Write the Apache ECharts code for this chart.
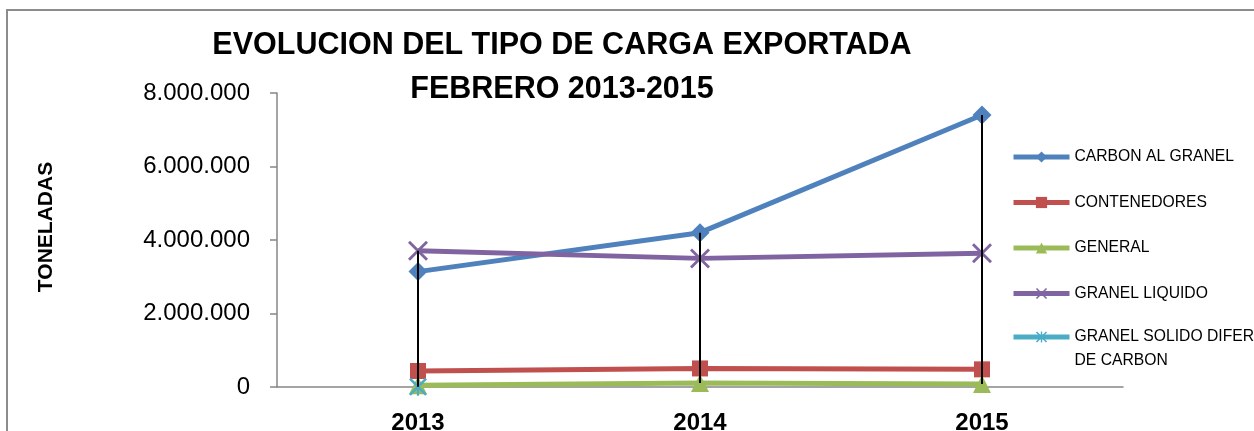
<!DOCTYPE html>
<html>
<head>
<meta charset="utf-8">
<script src="https://cdn.jsdelivr.net/npm/echarts@6/dist/echarts.min.js"></script>
<style>
html, body { margin: 0; padding: 0; background: #fff; }
#main { width: 1254px; height: 431px; }
</style>
</head>
<body>
<div id="main"></div>
<script>
var years = ['2013', '2014', '2015'];
var carbonGranel = [3140000, 4200000, 7400000];
var contenedores = [435000, 505000, 480000];
var general = [50000, 110000, 80000];
var granelLiquido = [3710000, 3500000, 3640000];
var granelSolido = [5000, null, null];
var yTicks = [0, 2000000, 4000000, 6000000, 8000000];

var chart = echarts.init(document.getElementById('main'));

var font = '"Liberation Sans", Arial, sans-serif';
var allSeries = [carbonGranel, contenedores, general, granelLiquido, granelSolido];
// high-low lines like excel: from the top value down to the lowest one
var hiLo = years.map(function (y, i) {
    var vals = allSeries.map(function (s) { return s[i]; }).filter(function (v) { return v != null; });
    return [i, Math.min.apply(null, vals), Math.max.apply(null, vals)];
});

var xPath = 'path://M0,1L1,0L5,4L9,0L10,1L6,5L10,9L9,10L5,6L1,10L0,9L4,5Z';
var starPath = 'path://M0,1L1,0L5,4L9,0L10,1L6,5L10,9L9,10L5,6L1,10L0,9L4,5Z M4.4,0L5.6,0L5.6,10L4.4,10Z';

function lineSeries(name, data, color, symbol, size) {
    return {
        name: name,
        type: 'line',
        data: data,
        symbol: symbol,
        symbolSize: size,
        showAllSymbol: true,
        lineStyle: { color: color, width: 5 },
        itemStyle: { color: color },
        z: 2
    };
}

var legendText = {
    fontFamily: font,
    fontSize: 15.7,
    lineHeight: 22,
    color: '#000'
};

var option = {
    animation: false,
    color: ['#4F81BD', '#C0504D', '#9BBB59', '#8064A2', '#4BACC6'],
    title: {
        text: 'EVOLUCION DEL TIPO DE CARGA EXPORTADA\nFEBRERO 2013-2015',
        left: 557,
        textAlign: 'center',
        top: 19,
        textStyle: {
            fontFamily: font,
            fontWeight: 'bold',
            fontSize: 30.5,
            lineHeight: 44,
            color: '#000'
        }
    },
    legend: [{
        orient: 'vertical',
        left: 1011,
        top: 146,
        padding: 0,
        itemWidth: 56,
        itemHeight: 14,
        itemGap: 23.5,
        lineStyle: { width: 5 },
        data: ['CARBON AL GRANEL', 'CONTENEDORES', 'GENERAL', 'GRANEL LIQUIDO'],
        textStyle: legendText
    }, {
        // two-line item: blank first line keeps the icon next to the first text line
        orient: 'vertical',
        left: 1011,
        top: 301,
        padding: 0,
        itemWidth: 56,
        itemHeight: 14,
        lineStyle: { width: 5 },
        data: ['GRANEL SOLIDO DIFER DE CARBON'],
        formatter: function (name) {
            return '\n' + name.replace(' DE CARBON', '\nDE CARBON');
        },
        textStyle: {
            fontFamily: font,
            fontSize: 15.7,
            lineHeight: 24,
            color: '#000'
        }
    }],
    grid: {
        left: 277,
        right: 131,
        top: 93,
        bottom: 44,
        outerBoundsMode: 'none'
    },
    xAxis: {
        type: 'category',
        data: years,
        boundaryGap: true,
        axisLine: { lineStyle: { color: '#868686', width: 1.5 } },
        axisTick: { show: false },
        axisLabel: {
            margin: 24,
            fontFamily: font,
            fontWeight: 'bold',
            fontSize: 24,
            color: '#000'
        }
    },
    yAxis: {
        type: 'value',
        min: yTicks[0],
        max: yTicks[yTicks.length - 1],
        interval: yTicks[1] - yTicks[0],
        name: 'TONELADAS',
        nameLocation: 'middle',
        nameGap: 220,
        nameRotate: 90,
        nameTextStyle: {
            fontFamily: font,
            fontWeight: 'bold',
            fontSize: 21,
            color: '#000',
            padding: [0, 0, 0, 26]
        },
        splitLine: { show: false },
        axisLine: { show: true, lineStyle: { color: '#868686', width: 1.5 } },
        axisTick: { show: true, length: 7, lineStyle: { color: '#868686', width: 1.5 } },
        axisLabel: {
            margin: 27,
            fontFamily: font,
            fontSize: 24,
            color: '#000',
            formatter: function (v) {
                return String(v).replace(/\B(?=(\d{3})+(?!\d))/g, '.');
            }
        }
    },
    graphic: [{
        type: 'rect',
        shape: { x: 7, y: 10, width: 1400, height: 600 },
        style: { fill: 'none', stroke: '#8c8c8c', lineWidth: 2 },
        silent: true,
        z: -1
    }],
    series: [
        lineSeries('CARBON AL GRANEL', carbonGranel, '#4F81BD', 'diamond', 19),
        lineSeries('CONTENEDORES', contenedores, '#C0504D', 'rect', 16),
        lineSeries('GENERAL', general, '#9BBB59', 'triangle', 18),
        lineSeries('GRANEL LIQUIDO', granelLiquido, '#8064A2', xPath, 20),
        lineSeries('GRANEL SOLIDO DIFER DE CARBON', granelSolido, '#4BACC6', starPath, 18),
        {
            name: 'hilo',
            type: 'custom',
            data: hiLo,
            z: 5,
            silent: true,
            renderItem: function (params, api) {
                var top = api.coord([api.value(0), api.value(2)]);
                var bottom = api.coord([api.value(0), api.value(1)]);
                return {
                    type: 'line',
                    shape: { x1: top[0], y1: top[1], x2: bottom[0], y2: bottom[1] },
                    style: { stroke: '#000', lineWidth: 2 }
                };
            }
        }
    ]
};

chart.setOption(option);
</script>
</body>
</html>
